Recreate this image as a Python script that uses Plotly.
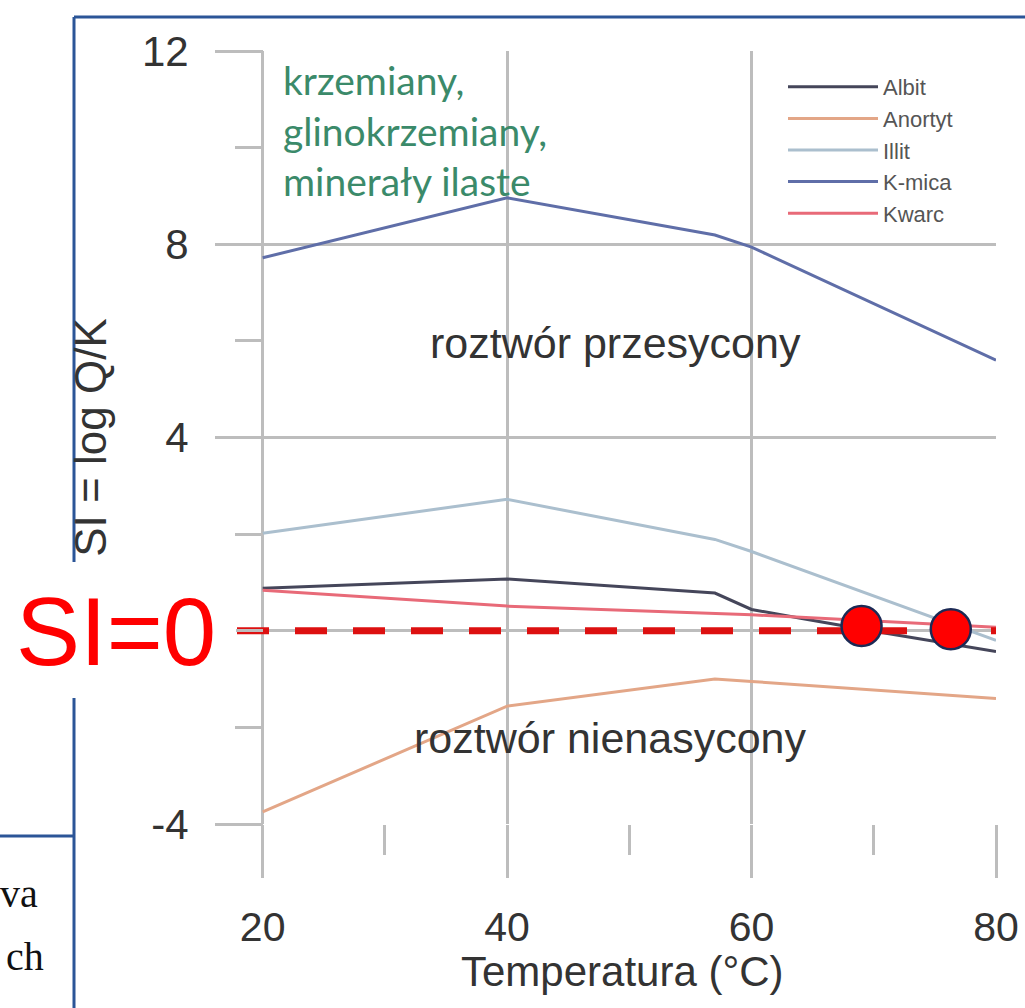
import plotly.graph_objects as go

# ---------------- data ----------------
albit_x = [20, 40, 57, 60, 64, 71, 80]
albit_y = [0.88, 1.07, 0.78, 0.44, 0.26, -0.05, -0.43]

anortyt_x = [20, 40, 57, 60, 80]
anortyt_y = [-3.75, -1.56, -1.0, -1.05, -1.40]

illit_x = [20, 40, 57, 60, 80]
illit_y = [2.02, 2.72, 1.89, 1.64, -0.20]

kmica_x = [20, 40, 57, 60, 80]
kmica_y = [7.72, 8.96, 8.19, 7.94, 5.60]

kwarc_x = [20, 40, 60, 80]
kwarc_y = [0.84, 0.51, 0.33, 0.07]

si0_x = [17.9, 80]
si0_y = [0, 0]

point_x = [69.0, 76.3]
point_y = [0.10, 0.03]

x_ticks = [20, 40, 60, 80]
y_ticks = [-4, 0, 4, 8, 12]
y_tick_text = ["-4", "", "4", "8", "12"]   # the "0" label is hidden behind the SI=0 box

# ---------------- geometry helpers (pixels -> paper) ----------------
L, R, T, B = 237, 996, 51, 824
W, H = R - L, B - T


def px_x(p):
    return (p - L) / W


def px_y(p):
    return (B - p) / H


GRID = "#bdbdbd"
TXT = "#333333"
SANS = "Liberation Sans, Arial, sans-serif"

fig = go.Figure()

series = [
    ("Albit", albit_x, albit_y, "#45465a"),
    ("Anortyt", anortyt_x, anortyt_y, "#e3a687"),
    ("Illit", illit_x, illit_y, "#abbfce"),
    ("K-mica", kmica_x, kmica_y, "#5f6ea8"),
    ("Kwarc", kwarc_x, kwarc_y, "#e86a78"),
]
for name, xs, ys, col in series:
    fig.add_trace(go.Scatter(x=xs, y=ys, mode="lines", name=name,
                             line=dict(color=col, width=3)))

fig.add_trace(go.Scatter(x=si0_x, y=si0_y, mode="lines", showlegend=False,
                         line=dict(color="#dd1010", width=7, dash="32px,26px"),
                         hoverinfo="skip"))
fig.add_trace(go.Scatter(x=point_x, y=point_y, mode="markers", showlegend=False,
                         marker=dict(size=40, color="#ff0000",
                                     line=dict(color="#1c2a55", width=2.5)),
                         cliponaxis=False))

# slide frame (blue lines)
frame = "#2b5597"
fig.add_shape(type="line", xref="paper", yref="paper", x0=px_x(74), x1=px_x(1030),
              y0=px_y(17), y1=px_y(17), line=dict(color=frame, width=3), layer="above")
fig.add_shape(type="line", xref="paper", yref="paper", x0=px_x(74), x1=px_x(74),
              y0=px_y(17), y1=px_y(1010), line=dict(color=frame, width=3), layer="above")
fig.add_shape(type="line", xref="paper", yref="paper", x0=px_x(-5), x1=px_x(74),
              y0=px_y(836), y1=px_y(836), line=dict(color=frame, width=3), layer="above")
# white box behind SI=0
fig.add_shape(type="rect", xref="paper", yref="paper", x0=px_x(-5), x1=px_x(236),
              y0=px_y(562), y1=px_y(698), fillcolor="white", line=dict(width=0),
              layer="above")

annotations = [
    dict(text="SI=0", x=px_x(116), y=px_y(631), font=dict(size=96, color="#ff0000", family=SANS)),
    dict(text="roztwór przesycony", x=px_x(615), y=px_y(343), font=dict(size=43, color=TXT, family=SANS)),
    dict(text="roztwór nienasycony", x=px_x(610), y=px_y(738), font=dict(size=43, color=TXT, family=SANS)),
    dict(text="krzemiany,<br>glinokrzemiany,<br>minerały ilaste", x=px_x(281), y=px_y(55),
         xanchor="left", yanchor="top", align="left",
         font=dict(size=39, color="#3b8a6a", family="Lato, Open Sans, sans-serif")),
    dict(text="Temperatura (°C)", x=px_x(622), y=px_y(972),
         font=dict(size=42, color=TXT, family=SANS)),
    dict(text="va", x=px_x(40), y=px_y(893), xanchor="right",
         font=dict(size=40, color="#111111", family="Liberation Serif, Times New Roman, serif")),
    dict(text="ch", x=px_x(46), y=px_y(956), xanchor="right",
         font=dict(size=40, color="#111111", family="Liberation Serif, Times New Roman, serif")),
]
for a in annotations:
    a.setdefault("xanchor", "center")
    a.setdefault("yanchor", "middle")
    fig.add_annotation(xref="paper", yref="paper", showarrow=False, **a)

fig.update_layout(
    width=1025, height=1008,
    margin=dict(l=L, r=1025 - R, t=T, b=1008 - B, autoexpand=False),
    paper_bgcolor="white", plot_bgcolor="white",
    showlegend=True,
    legend=dict(x=px_x(783), y=px_y(66), xanchor="left", yanchor="top",
                bgcolor="rgba(0,0,0,0)", itemwidth=90,
                font=dict(size=22, color="#555555",
                          family="Liberation Sans Narrow, Arial Narrow, Liberation Sans, sans-serif")),
    xaxis=dict(range=[si0_x[0], 80], tickvals=x_ticks, ticks="outside", ticklen=53,
               tickwidth=2.5, tickcolor=GRID, showgrid=True, gridcolor=GRID, gridwidth=2.5,
               zeroline=False, showline=False,
               minor=dict(tick0=20, dtick=10, ticks="outside", ticklen=30, tickwidth=2.5,
                          tickcolor=GRID, showgrid=False),
               tickfont=dict(size=41, color=TXT, family=SANS), ticklabelstandoff=14),
    yaxis=dict(range=[-4, 12], tickvals=y_ticks, ticktext=y_tick_text,
               anchor="free", position=(263 - L) / W,
               ticks="outside", ticklen=48, tickwidth=2.5, tickcolor=GRID,
               showgrid=True, gridcolor=GRID, gridwidth=2.5, zeroline=False, showline=False,
               minor=dict(tick0=0, dtick=2, ticks="outside", ticklen=28, tickwidth=2.5,
                          tickcolor=GRID, showgrid=False),
               tickfont=dict(size=42, color=TXT, family=SANS), ticklabelstandoff=18,
               title=dict(text="SI = log Q/K", standoff=20,
                          font=dict(size=44, color=TXT, family=SANS))),
)

fig.write_html("out.html", config={"displayModeBar": False},
               post_script="document.body.style.margin='0px';"
                           "document.documentElement.style.overflow='hidden';")
